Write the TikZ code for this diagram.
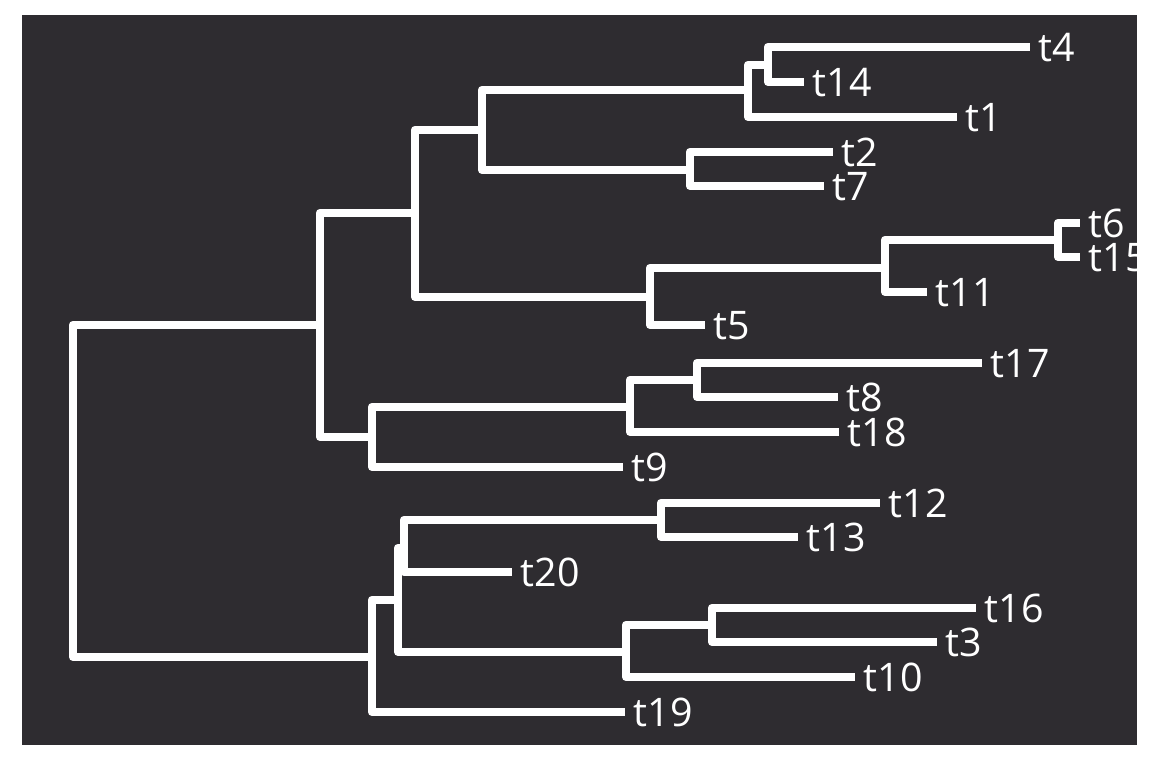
\documentclass[tikz,border=0pt]{standalone}
\usepackage{fontspec}
\setmainfont{Open Sans}
\usepackage{tikz}
\definecolor{BoardColor}{RGB}{46,44,48}
\definecolor{ChalkColor}{RGB}{255,255,255}
\tikzset{branch/.style={draw=ChalkColor, line width=5.9pt, line join=round},
         leaf/.style={anchor=west, inner xsep=6pt, inner ysep=0pt, text height=20pt, text depth=0pt,
                      text=ChalkColor, font=\fontsize{28}{30}\selectfont}}

\begin{document}
\begin{tikzpicture}[x=0.025cm,y=-0.025cm]
\useasboundingbox (0,0) rectangle (1152,768);
\fill[white] (0,0) rectangle (1152,768);
\fill[BoardColor] (22,15) rectangle (1137,745);

%% inner nodes of the tree
\coordinate (root) at (73,491);
\coordinate (a) at (320,325);
\coordinate (b) at (415,213);
\coordinate (d) at (482,130);
\coordinate (f) at (748,90);
\coordinate (h) at (768,65);
\coordinate (g) at (690,170);
\coordinate (e) at (650,297);
\coordinate (i) at (885,268);
\coordinate (j) at (1058,240);
\coordinate (c) at (372,437);
\coordinate (k) at (630,407);
\coordinate (l) at (697,380);
\coordinate (m) at (372,657);
\coordinate (n) at (398,600);
\coordinate (o) at (404,548);
\coordinate (q) at (661,520);
\coordinate (p) at (626,652);
\coordinate (s) at (712,625);

%% tips
\node[leaf] (t4) at (1030,47) {t4};
\node[leaf] (t14) at (804,82) {t14};
\node[leaf] (t1) at (957,117) {t1};
\node[leaf] (t2) at (833,152) {t2};
\node[leaf] (t7) at (824,186) {t7};
\node[leaf] (t6) at (1080,223) {t6};
\node[leaf] (t15) at (1080,257) {t15};
\node[leaf] (t11) at (927,292) {t11};
\node[leaf] (t5) at (705,325) {t5};
\node[leaf] (t17) at (982,363) {t17};
\node[leaf] (t8) at (838,397) {t8};
\node[leaf] (t18) at (839,432) {t18};
\node[leaf] (t9) at (623,467) {t9};
\node[leaf] (t12) at (880,503) {t12};
\node[leaf] (t13) at (798,537) {t13};
\node[leaf] (t20) at (512,572) {t20};
\node[leaf] (t16) at (976,608) {t16};
\node[leaf] (t3) at (937,642) {t3};
\node[leaf] (t10) at (855,677) {t10};
\node[leaf] (t19) at (625,712) {t19};

%% branches
\foreach \p/\c in {root/a,root/m,a/b,a/c,b/d,b/e,d/f,d/g,f/h,f/t1,h/t4,h/t14,g/t2,g/t7,
                   e/i,e/t5,i/j,i/t11,j/t6,j/t15,c/k,c/t9,k/l,k/t18,l/t17,l/t8,
                   m/n,m/t19,n/o,n/p,o/q,o/t20,q/t12,q/t13,p/s,p/t10,s/t16,s/t3}{
\draw[branch] (\p) |- (\c);
}
\end{tikzpicture}
\end{document}
